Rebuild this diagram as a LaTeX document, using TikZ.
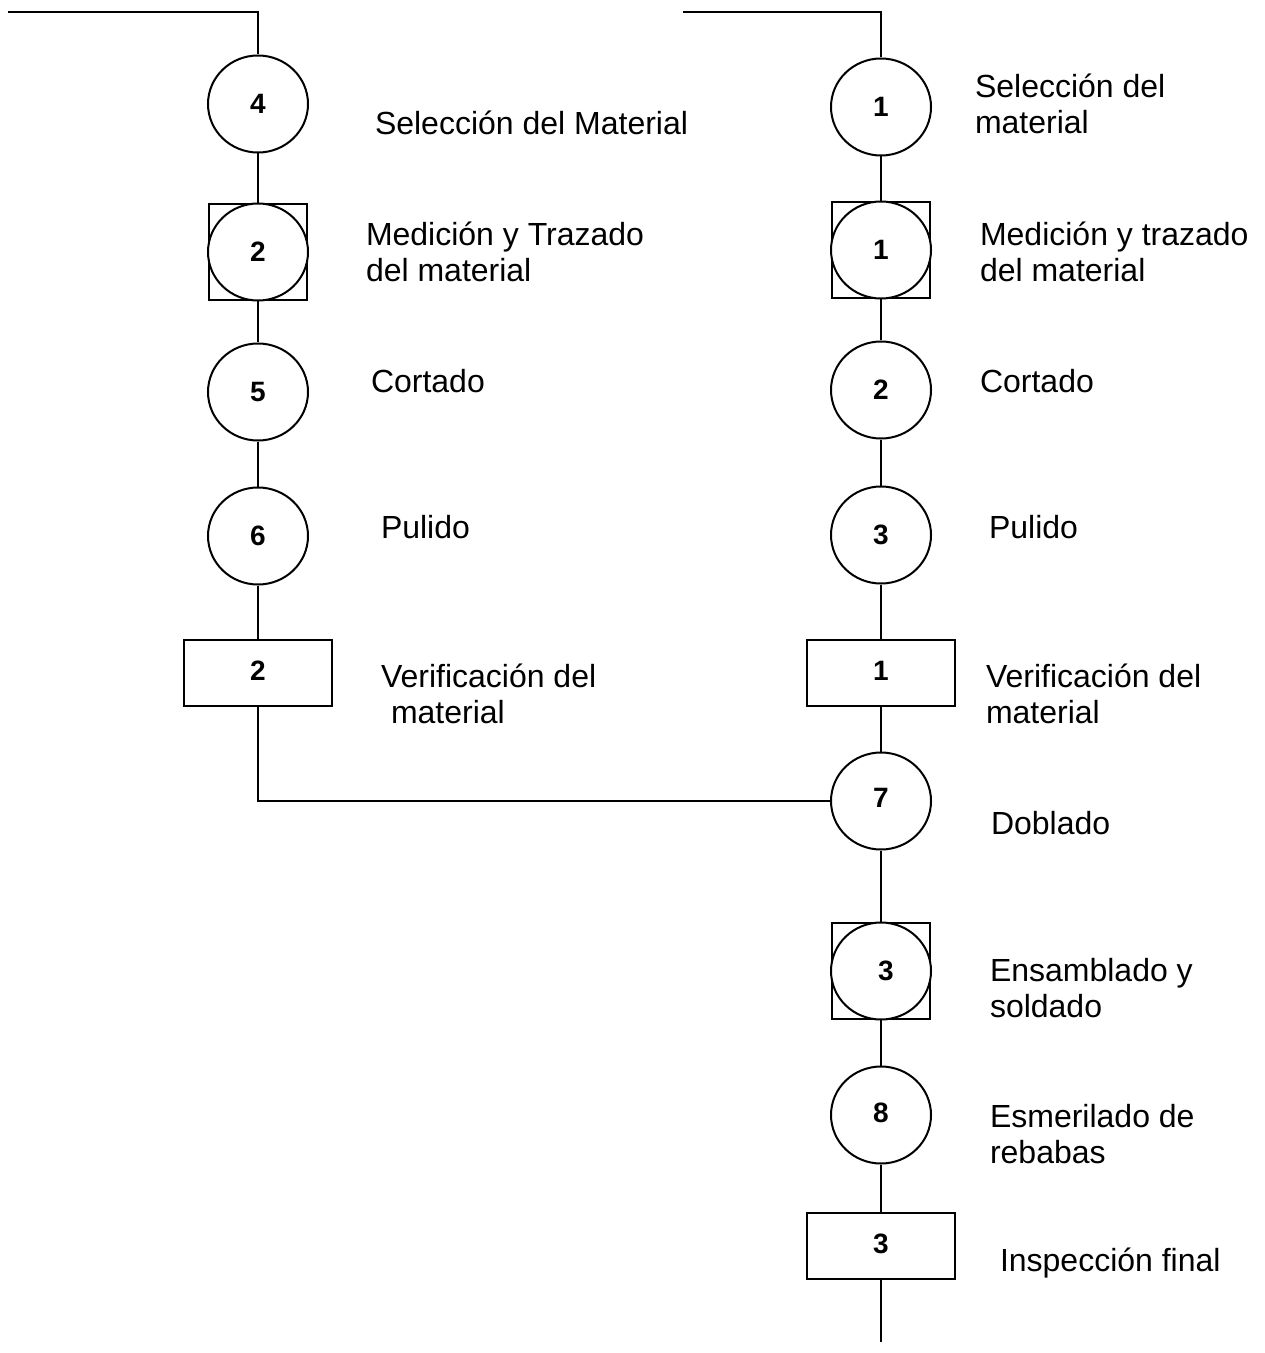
\documentclass[tikz,border=0pt]{standalone}
\usepackage{fontspec}
\setmainfont{Liberation Sans}
\usetikzlibrary{shapes.geometric}
\begin{document}
\begin{tikzpicture}[x=0.5pt,y=-0.5pt,line width=1pt,
  op/.style={draw,ellipse,minimum width=50pt,minimum height=48.5pt,inner sep=0pt,
    fill=white,font=\bfseries\fontsize{14}{16}\selectfont},
  combo/.style={draw,rectangle,minimum width=49pt,minimum height=48pt,inner sep=0pt},
  insp/.style={draw,rectangle,minimum width=74pt,minimum height=33pt,inner sep=0pt,
    fill=white,font=\bfseries\fontsize{14}{16}\selectfont},
  desc/.style={anchor=west,align=left,inner sep=0pt,font=\fontsize{16}{18}\selectfont}]
\useasboundingbox (0,0) rectangle (1264,1353);

% left branch
\coordinate (sL) at (8,12);
\node[op] (c4) at (258,104) {4};
\node[combo] (m2) at (258,252) {};
\node[op] (m2c) at (258,252) {2};
\node[op] (c5) at (258,392) {5};
\node[op] (c6) at (258,536) {6};
\node[insp] (v2) at (258,673) {\raisebox{2.5pt}{2}};

% right branch
\coordinate (sR) at (683,12);
\node[op] (c1) at (881,107) {1};
\node[combo] (m1) at (881,250) {};
\node[op] (m1c) at (881,250) {1};
\node[op] (c2) at (881,390) {2};
\node[op] (c3) at (881,535) {3};
\node[insp] (v1) at (881,673) {\raisebox{2.5pt}{1}};
\node[op] (c7) at (881,801) {\raisebox{3pt}{7}};
\node[combo] (m3) at (881,971) {};
\node[op] (m3c) at (881,971) {\hspace{5pt}3};
\node[op] (c8) at (881,1115) {\raisebox{2.5pt}{8}};
\node[insp] (v3) at (881,1246) {\raisebox{2.5pt}{3}};
\coordinate (eR) at (881,1342);

% connectors
\draw (sL) -| (c4);
\draw (c4) -- (m2);
\draw (m2) -- (c5);
\draw (c5) -- (c6);
\draw (c6) -- (v2);
\draw (v2) |- (c7);
\draw (sR) -| (c1);
\draw (c1) -- (m1);
\draw (m1) -- (c2);
\draw (c2) -- (c3);
\draw (c3) -- (v1);
\draw (v1) -- (c7);
\draw (c7) -- (m3);
\draw (m3) -- (c8);
\draw (c8) -- (v3);
\draw (v3) -- (eR);

% descriptions
\node[desc] (d4) at (374,123) {Selección del Material};
\node[desc] (dm2) at (365,252) {Medición y Trazado\\del material};
\node[desc] (d5) at (370,381) {Cortado};
\node[desc] (d6) at (380,527) {Pulido};
\node[desc] (dv2) at (380,694) {Verificación del\\\hspace{5pt}material};
\node[desc] (d1) at (974,104) {Selección del\\material};
\node[desc] (dm1) at (979,252) {Medición y trazado\\del material};
\node[desc] (d2) at (979,381) {Cortado};
\node[desc] (d3) at (988,527) {Pulido};
\node[desc] (dv1) at (985,694) {Verificación del\\material};
\node[desc] (d7) at (990,823) {Doblado};
\node[desc] (dm3) at (989,988) {Ensamblado y\\soldado};
\node[desc] (d8) at (989,1134) {Esmerilado de\\rebabas};
\node[desc] (dv3) at (999,1263) {Inspección final};
\end{tikzpicture}
\end{document}
